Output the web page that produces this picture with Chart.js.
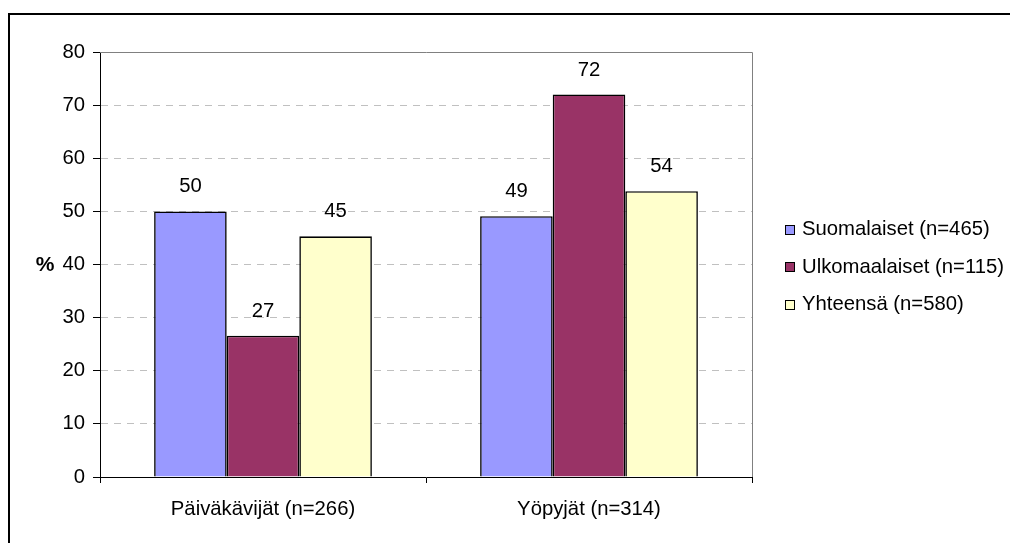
<!DOCTYPE html>
<html><head><meta charset="utf-8">
<script src="https://cdn.jsdelivr.net/npm/chart.js@4.4.1/dist/chart.umd.min.js"></script>
<style>html,body{margin:0;padding:0;background:#fff;} canvas{display:block;}</style>
</head><body>
<canvas id="c" width="1010" height="543"></canvas>
<script>
const categories = ['Päiväkävijät (n=266)', 'Yöpyjät (n=314)'];
const seriesNames = ['Suomalaiset (n=465)', 'Ulkomaalaiset (n=115)', 'Yhteensä (n=580)'];
const suomalaiset = [50.0, 49.1];
const ulkomaalaiset = [26.6, 72.0];
const yhteensa = [45.3, 53.8];
const yMin = 0, yMax = 80, yStep = 10;
const axisTitle = '%';
const seriesColors = ['#9999FF', '#993366', '#FFFFCC'];

const FONT = '"Liberation Sans", Arial, sans-serif';
const FS = 20.3;

const deco = {
  id: 'deco',
  afterDatasetsDraw(chart) {
    const ctx = chart.ctx;
    ctx.save();
    ctx.fillStyle = '#000';
    ctx.font = FS + 'px ' + FONT;
    ctx.textAlign = 'center';
    ctx.textBaseline = 'alphabetic';
    chart.data.datasets.forEach((ds, i) => {
      chart.getDatasetMeta(i).data.forEach((bar, j) => {
        ctx.fillText(String(Math.round(ds.data[j])), bar.x, bar.y - 19);
      });
    });
    ctx.restore();
  },
  afterDraw(chart) {
    const ctx = chart.ctx;
    const a = chart.chartArea;
    ctx.save();
    ctx.strokeStyle = '#808080';
    ctx.lineWidth = 1;
    ctx.beginPath();
    ctx.moveTo(a.left, Math.round(a.top) + 0.5);
    ctx.lineTo(Math.round(a.right) + 0.5, Math.round(a.top) + 0.5);
    ctx.lineTo(Math.round(a.right) + 0.5, a.bottom);
    ctx.stroke();
    ctx.fillStyle = '#000';
    ctx.fillRect(8, 13, 2, 530);
    ctx.fillRect(8, 13, 1002, 2);
    ctx.font = 'bold 21px ' + FONT;
    ctx.textAlign = 'center';
    ctx.textBaseline = 'middle';
    ctx.fillText(axisTitle, 45, chart.scales.y.getPixelForValue(40) + 1);
    const rows = [229.5, 267, 304.5];
    ctx.font = FS + 'px ' + FONT;
    ctx.textAlign = 'left';
    seriesNames.forEach((name, i) => {
      const y = rows[i];
      ctx.fillStyle = seriesColors[i];
      ctx.fillRect(785, Math.round(y) - 5, 10, 10);
      ctx.strokeStyle = '#000';
      ctx.lineWidth = 1;
      ctx.strokeRect(785.5, Math.round(y) - 4.5, 9, 9);
      ctx.fillStyle = '#000';
      ctx.fillText(name, 802, y);
    });
    ctx.restore();
  }
};

new Chart(document.getElementById('c'), {
  type: 'bar',
  data: {
    labels: categories,
    datasets: [suomalaiset, ulkomaalaiset, yhteensa].map((d, i) => ({
      label: seriesNames[i],
      data: d,
      backgroundColor: seriesColors[i],
      borderColor: '#000',
      borderWidth: 1.6,
      borderSkipped: 'start',
      categoryPercentage: 0.668,
      barPercentage: 1.0
    }))
  },
  options: {
    responsive: false,
    animation: false,
    events: [],
    layout: { padding: { left: 0, top: 52, right: 258, bottom: 0 } },
    plugins: { legend: { display: false }, tooltip: { enabled: false }, title: { display: false } },
    scales: {
      x: {
        grid: { display: true, drawOnChartArea: false, drawTicks: true, tickLength: 6, tickColor: '#000', offset: true },
        border: { display: true, color: '#000', width: 1 },
        ticks: { color: '#000', font: { family: FONT, size: FS }, padding: 14, maxRotation: 0 },
        afterFit(s) { s.height = 66; }
      },
      y: {
        min: yMin, max: yMax,
        grid: {
          color: (c) => (c.tick && (c.tick.value === yMin || c.tick.value === yMax)) ? 'rgba(0,0,0,0)' : '#c0c0c0',
          tickColor: '#000', tickLength: 7, lineWidth: 1
        },
        border: { display: true, color: '#000', width: 1, dash: [7, 6] },
        ticks: { stepSize: yStep, color: '#000', font: { family: FONT, size: FS }, padding: 8 },
        afterFit(s) { s.width = 100; }
      }
    }
  },
  plugins: [deco]
});
</script>
</body></html>
